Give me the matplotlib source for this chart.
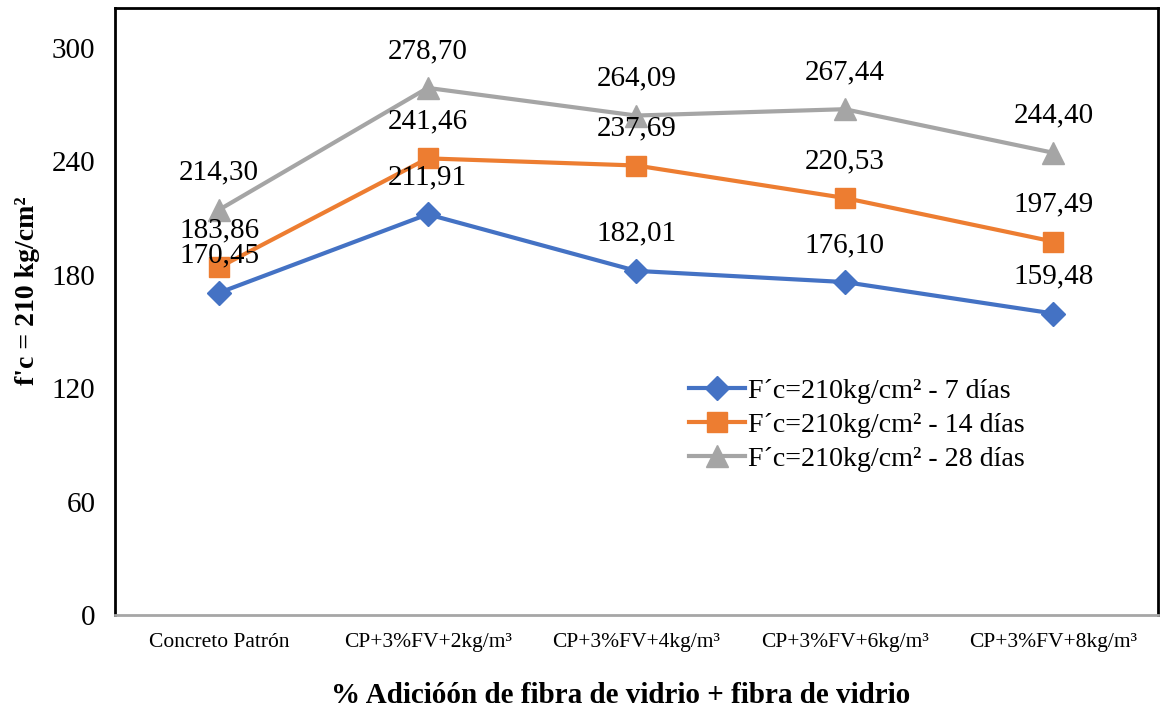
import matplotlib
matplotlib.use("Agg")
import matplotlib.pyplot as plt

plt.rcParams['font.family'] = ['Liberation Serif', 'DejaVu Serif']

categories = ["Concreto Patrón", "CP+3%FV+2kg/m³", "CP+3%FV+4kg/m³",
              "CP+3%FV+6kg/m³", "CP+3%FV+8kg/m³"]
dias_7 = [170.45, 211.91, 182.01, 176.10, 159.48]
dias_14 = [183.86, 241.46, 237.69, 220.53, 197.49]
dias_28 = [214.30, 278.70, 264.09, 267.44, 244.40]

series = [
    ("F´c=210kg/cm² - 7 días", dias_7, "#4472C4", "D", 12),
    ("F´c=210kg/cm² - 14 días", dias_14, "#ED7D31", "s", 15),
    ("F´c=210kg/cm² - 28 días", dias_28, "#A5A5A5", "^", 16),
]

fig, ax = plt.subplots(figsize=(11.6, 7.13), dpi=100)
fig.subplots_adjust(left=0.099, right=0.998, top=0.989, bottom=0.137)

x = list(range(len(categories)))
for label, vals, color, marker, ms in series:
    ax.plot(x, vals, color=color, lw=3, marker=marker, markersize=ms, label=label)
    for xi, v in zip(x, vals):
        ax.annotate(f"{v:.2f}".replace(".", ","), (xi, v), xytext=(0, 37),
                    textcoords="offset pixels", ha="center", va="center", fontsize=21)

ax.set_xlim(-0.5, len(categories) - 0.5)
ax.set_ylim(0, 321)
ax.set_yticks([0, 60, 120, 180, 240, 300])
ax.set_xticks(x)
ax.set_xticklabels(categories, fontsize=15.5)
ax.tick_params(axis="y", labelsize=21, length=0, pad=14)
ax.tick_params(axis="x", length=0, pad=13)

for side in ["left", "top", "right"]:
    ax.spines[side].set_color("black")
    ax.spines[side].set_linewidth(2)
ax.spines["bottom"].set_color("#A6A6A6")
ax.spines["bottom"].set_linewidth(2)

ax.set_ylabel("f'c = 210 kg/cm²", fontsize=20, fontweight="bold")
ax.yaxis.set_label_coords(-0.0715, 0.535)
ax.set_xlabel("% Adicióón de fibra de vidrio + fibra de vidrio", fontsize=21, fontweight="bold")
ax.xaxis.set_label_coords(0.485, -0.110)

ax.legend(loc="center left", bbox_to_anchor=(0.54, 0.313), frameon=False,
          fontsize=20.2, handlelength=2.0, handletextpad=0.1, labelspacing=0.3,
          borderaxespad=0)

fig.savefig("out.png", dpi=100)
